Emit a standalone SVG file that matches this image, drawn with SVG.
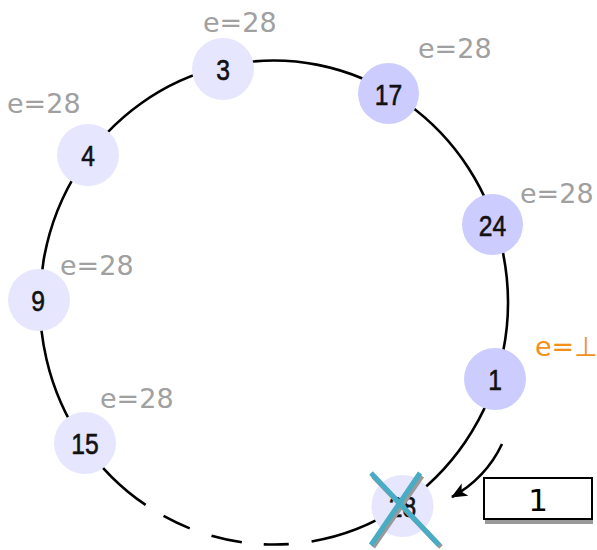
<svg xmlns="http://www.w3.org/2000/svg" width="597" height="550" viewBox="0 0 597 550">
<style>
.ring{fill:none;stroke:#000;stroke-width:2.6}
.lite{fill:#e6e6ff}
.dark{fill:#ccccff}
.num{font-family:"Liberation Sans",Arial,sans-serif;font-size:29px;fill:#111;stroke:#111;stroke-width:0.6;text-anchor:middle}
.e{font-family:"DejaVu Sans",sans-serif;font-size:27px;fill:#a0a0a0}
.eo{font-family:"DejaVu Sans",sans-serif;font-size:27px;fill:#f39019}
.x{stroke:#48adc4;stroke-width:5;stroke-linecap:butt}
.xs{stroke:#999;stroke-width:5}
</style>
<defs>
<marker id="ah" markerUnits="userSpaceOnUse" markerWidth="20" markerHeight="16" refX="15" refY="7" orient="auto">
<path d="M0,0 L16,7 L0,14 L4,7 Z" fill="#000"/>
</marker>
</defs>
<g id="connectors">
<path class="ring" d="M83,442.4 A234,242 0 1 1 401.6,505.4"/>
<path class="ring" d="M83,442.4 A234,242 0 0 0 401.6,505.4" stroke-dasharray="89 21 29 23 31 22 25 23 300"/>
<path d="M502,444 Q486,478 452,497" fill="none" stroke="#000" stroke-width="2.6" marker-end="url(#ah)"/>
</g>
<g id="n3"><circle class="lite" cx="223" cy="69" r="31"/><text class="num" transform="translate(223,79.5) scale(0.85,1)">3</text></g>
<g id="n4"><circle class="lite" cx="88" cy="155" r="31"/><text class="num" transform="translate(88,165.5) scale(0.85,1)">4</text></g>
<g id="n9"><circle class="lite" cx="39" cy="300" r="31"/><text class="num" transform="translate(38,310.5) scale(0.85,1)">9</text></g>
<g id="n15"><circle class="lite" cx="85" cy="443" r="31"/><text class="num" transform="translate(85,453.5) scale(0.85,1)">15</text></g>
<g id="n17"><circle class="dark" cx="388.5" cy="93.5" r="30.5"/><text class="num" transform="translate(388.5,104.5) scale(0.85,1)">17</text></g>
<g id="n24"><circle class="dark" cx="492.5" cy="224.5" r="30.5"/><text class="num" transform="translate(492.5,235.5) scale(0.85,1)">24</text></g>
<g id="n1"><circle class="dark" cx="495" cy="379" r="31"/><text class="num" transform="translate(495,389.5) scale(0.85,1)">1</text></g>
<g id="n28"><circle class="lite" cx="402.5" cy="506" r="31"/><text class="num" transform="translate(402.5,516.5) scale(0.85,1)">28</text>
<line class="xs" x1="373" y1="476" x2="441" y2="547"/><line class="xs" x1="422" y1="476" x2="373" y2="547"/>
<line class="x" x1="371" y1="473" x2="439" y2="545"/><line class="x" x1="420" y1="473" x2="371" y2="545"/>
</g>
<g id="labels">
<text class="e" x="203" y="32">e=28</text>
<text class="e" x="7" y="113">e=28</text>
<text class="e" x="418" y="58">e=28</text>
<text class="e" x="520" y="203">e=28</text>
<text class="e" x="60" y="275">e=28</text>
<text class="e" x="100" y="408">e=28</text>
<text class="eo" x="535" y="356">e=⊥</text>
</g>
<g id="box">
<rect x="485" y="482" width="108" height="42" fill="#999"/>
<rect x="484" y="478" width="108" height="41" fill="#fff" stroke="#000" stroke-width="2"/>
<text x="538" y="511" font-family="DejaVu Sans,sans-serif" font-size="31" text-anchor="middle" fill="#000">1</text>
</g>
</svg>
